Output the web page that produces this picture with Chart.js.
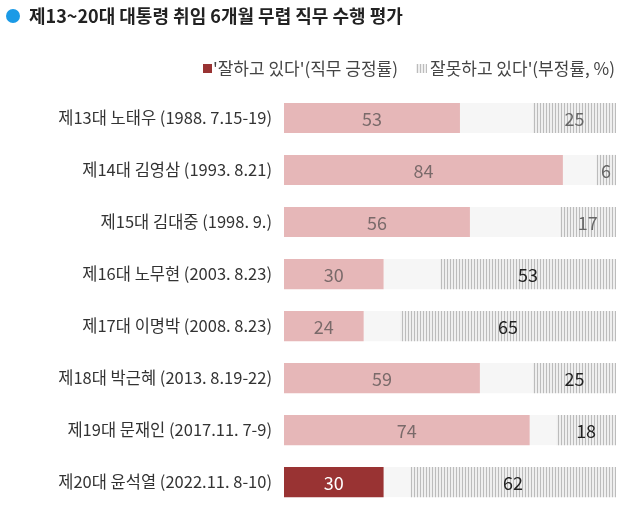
<!DOCTYPE html>
<html>
<head>
<meta charset="utf-8">
<script src="https://cdn.jsdelivr.net/npm/chart.js@4"></script>
<style>
  html, body { margin: 0; padding: 0; background: #fff; overflow: hidden; }
</style>
</head>
<body>
<canvas id="chart" width="630" height="530"></canvas>
<script>
// --- Datos ---
const presidents = [
  '제13대 노태우 (1988. 7.15-19)',
  '제14대 김영삼 (1993. 8.21)',
  '제15대 김대중 (1998. 9.)',
  '제16대 노무현 (2003. 8.23)',
  '제17대 이명박 (2008. 8.23)',
  '제18대 박근혜 (2013. 8.19-22)',
  '제19대 문재인 (2017.11. 7-9)',
  '제20대 윤석열 (2022.11. 8-10)'
];
const positiveRates = [53, 84, 56, 30, 24, 59, 74, 30];
const negativeRates = [25, 6, 17, 53, 65, 25, 18, 62];
const otherRates = positiveRates.map((p, i) => 100 - p - negativeRates[i]);

const titleText = '제13~20대 대통령 취임 6개월 무렵 직무 수행 평가';
const legendPositive = "'잘하고 있다'(직무 긍정률)";
const legendNegative = "잘못하고 있다'(부정률, %)";

const FONT = "'Noto Sans CJK KR', 'Noto Sans', sans-serif";

// patrón de rayas verticales para el negativo
function makeHatch() {
  const c = document.createElement('canvas');
  c.width = 3; c.height = 3;
  const g = c.getContext('2d');
  g.fillStyle = '#efefef';
  g.fillRect(0, 0, 3, 3);
  g.fillStyle = '#bcbcbc';
  g.fillRect(0, 0, 1, 3);
  return g.createPattern(c, 'repeat');
}
const hatch = makeHatch();

const posColors = positiveRates.map((v, i) => i === positiveRates.length - 1 ? '#993333' : '#e6b7b8');
const negLabelColors = negativeRates.map((v, i) => i < 3 ? '#666' : '#222');

// título y leyenda
const headerPlugin = {
  id: 'header',
  afterDraw(chart) {
    const ctx = chart.ctx;
    ctx.save();
    ctx.fillStyle = '#1a9ae6';
    ctx.beginPath();
    ctx.arc(13, 16, 7, 0, Math.PI * 2);
    ctx.fill();
    ctx.fillStyle = '#222';
    ctx.font = 'bold 18px ' + FONT;
    ctx.textBaseline = 'middle';
    ctx.textAlign = 'left';
    ctx.fillText(titleText, 29, 16);

    ctx.font = '17px ' + FONT;
    ctx.fillStyle = '#993333';
    ctx.fillRect(203, 64, 9, 9);
    ctx.fillStyle = '#444';
    ctx.fillText(legendPositive, 213, 69);
    ctx.fillStyle = hatch;
    ctx.fillRect(416, 64, 11, 9);
    ctx.fillStyle = '#444';
    ctx.fillText(legendNegative, 430, 69);
    ctx.restore();
  }
};

// etiquetas de valores
const valueLabels = {
  id: 'valueLabels',
  afterDatasetsDraw(chart) {
    const ctx = chart.ctx;
    ctx.save();
    ctx.font = '18px ' + FONT;
    ctx.textAlign = 'center';
    ctx.textBaseline = 'middle';
    [0, 2].forEach(di => {
      const meta = chart.getDatasetMeta(di);
      const data = chart.data.datasets[di].data;
      meta.data.forEach((bar, i) => {
        const x = (bar.x + bar.base) / 2;
        if (di === 0) {
          ctx.fillStyle = i === data.length - 1 ? '#fff' : '#7a6a6a';
        } else {
          ctx.fillStyle = negLabelColors[i];
        }
        ctx.fillText(data[i], x, bar.y + 1);
      });
    });
    ctx.restore();
  }
};

new Chart(document.getElementById('chart'), {
  type: 'bar',
  data: {
    labels: presidents,
    datasets: [
      { label: 'positive', data: positiveRates, backgroundColor: posColors },
      { label: 'other', data: otherRates, backgroundColor: '#f6f6f6' },
      { label: 'negative', data: negativeRates, backgroundColor: hatch }
    ]
  },
  options: {
    indexAxis: 'y',
    responsive: false,
    animation: false,
    events: [],
    layout: { padding: { top: 92, right: 14, bottom: 0, left: 0 } },
    datasets: { bar: { barPercentage: 0.58, categoryPercentage: 1 } },
    scales: {
      x: { stacked: true, min: 0, max: 100, display: false },
      y: {
        stacked: true,
        grid: { display: false, drawTicks: false },
        border: { display: false },
        ticks: { color: '#333', padding: 12, font: { size: 16.5, family: FONT } },
        afterFit(scale) { scale.width = 284; }
      }
    },
    plugins: { legend: { display: false }, tooltip: { enabled: false } }
  },
  plugins: [headerPlugin, valueLabels]
});
</script>
</body>
</html>
